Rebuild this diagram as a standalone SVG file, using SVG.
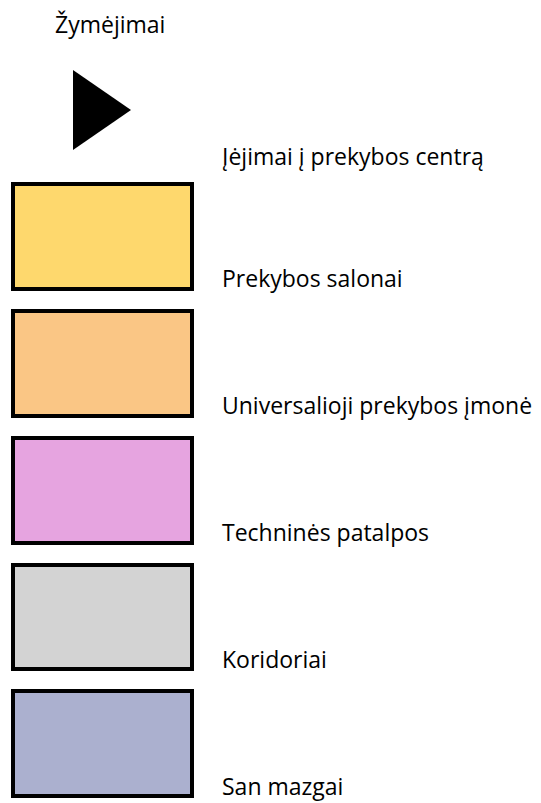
<svg xmlns="http://www.w3.org/2000/svg" width="541" height="803" viewBox="0 0 541 803">
<style>
.t{font-family:"Open Sans","Noto Sans","Liberation Sans",sans-serif;font-size:23px;fill:#000}
.b{stroke:#000;stroke-width:4}
</style>
<rect width="541" height="803" fill="#fff"/>
<g id="title"><text class="t" x="55" y="33">Žymėjimai</text></g>
<g id="entrance">
<polygon points="73,70 131,110 73,150" fill="#000"/>
<text class="t" x="222" y="165">Įėjimai į prekybos centrą</text>
</g>
<g id="salonai">
<rect class="b" x="13" y="184" width="179" height="105" fill="#FED86D"/>
<text class="t" x="222" y="287">Prekybos salonai</text>
</g>
<g id="universali">
<rect class="b" x="13" y="311" width="179" height="105" fill="#FAC685"/>
<text class="t" x="222" y="414">Universalioji prekybos įmonė</text>
</g>
<g id="technines">
<rect class="b" x="13" y="438" width="179" height="105" fill="#E6A4E0"/>
<text class="t" x="222" y="541">Techninės patalpos</text>
</g>
<g id="koridoriai">
<rect class="b" x="13" y="565" width="179" height="104" fill="#D3D3D3"/>
<text class="t" x="222" y="668">Koridoriai</text>
</g>
<g id="san">
<rect class="b" x="13" y="691" width="179" height="105" fill="#ABB0CF"/>
<text class="t" x="222" y="795">San mazgai</text>
</g>
<g id="connectors"/>
</svg>
